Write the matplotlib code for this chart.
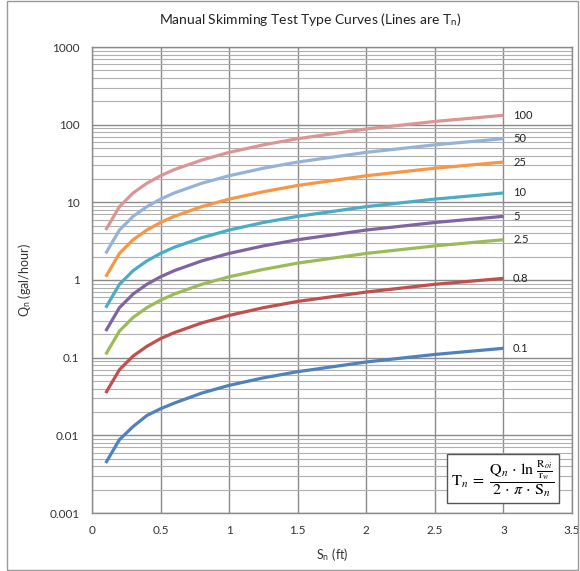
import matplotlib
matplotlib.use("Agg")
import matplotlib.pyplot as plt
from matplotlib.patches import Rectangle
from matplotlib.ticker import LogLocator, FixedLocator, NullFormatter

plt.rcParams['font.family'] = ['Lato', 'DejaVu Sans']
plt.rcParams['mathtext.fontset'] = 'stix'

S = [0.1, 0.2, 0.3, 0.4, 0.5, 0.6, 0.8, 1.0, 1.25, 1.5, 2.0, 2.5, 3.0]
series_labels = ["0.1", "0.8", "2.5", "5", "10", "25", "50", "100"]
q_01 = [0.0044, 0.0088, 0.013, 0.018, 0.022, 0.026, 0.035, 0.044, 0.055, 0.066, 0.088, 0.11, 0.132]
q_08 = [0.035, 0.07, 0.105, 0.14, 0.176, 0.21, 0.28, 0.35, 0.44, 0.53, 0.70, 0.88, 1.05]
q_25 = [0.11, 0.22, 0.33, 0.44, 0.55, 0.66, 0.88, 1.1, 1.37, 1.65, 2.2, 2.75, 3.3]
q_5 = [0.22, 0.44, 0.66, 0.88, 1.1, 1.32, 1.76, 2.2, 2.75, 3.3, 4.4, 5.5, 6.6]
q_10 = [0.44, 0.88, 1.32, 1.76, 2.2, 2.64, 3.5, 4.4, 5.5, 6.6, 8.8, 11, 13.2]
q_25b = [1.1, 2.2, 3.3, 4.4, 5.5, 6.6, 8.8, 11, 13.7, 16.5, 22, 27.5, 33]
q_50 = [2.2, 4.4, 6.6, 8.8, 11, 13.2, 17.6, 22, 27.5, 33, 44, 55, 66]
q_100 = [4.4, 8.8, 13.2, 17.6, 22, 26.4, 35, 44, 55, 66, 88, 110, 132]
all_q = [q_01, q_08, q_25, q_5, q_10, q_25b, q_50, q_100]
colors = ["#4F81BD", "#C0504D", "#9BBB59", "#8064A2", "#4BACC6", "#F79646", "#95B3D7", "#D99694"]

x_ticks = [0, 0.5, 1, 1.5, 2, 2.5, 3, 3.5]
y_ticks = [0.001, 0.01, 0.1, 1, 10, 100, 1000]
y_tick_labels = ["0.001", "0.01", "0.1", "1", "10", "100", "1000"]

fig = plt.figure(figsize=(5.8, 5.71), dpi=100)
ax = fig.add_axes([92/580, 1-513/571, 480/580, 466/571])

for q, c, lab in zip(all_q, colors, series_labels):
    ax.plot(S, q, color=c, lw=2.3, solid_capstyle='butt', zorder=3)
    ax.text(3.07, q[-1], lab, fontsize=8, va='center', ha='left', color='#222222', zorder=4)

ax.set_yscale('log')
ax.set_xlim(0, 3.5)
ax.set_ylim(0.001, 1000)
ax.xaxis.set_major_locator(FixedLocator(x_ticks))
ax.set_xticklabels([("%g" % v) for v in x_ticks])
ax.yaxis.set_major_locator(FixedLocator(y_ticks))
ax.set_yticklabels(y_tick_labels)
ax.yaxis.set_minor_locator(LogLocator(base=10, subs=[2, 3, 4, 5, 6, 7, 8, 9], numticks=20))
ax.yaxis.set_minor_formatter(NullFormatter())
ax.tick_params(axis='both', which='both', length=0, labelsize=8.5, colors='#333333', pad=9)
ax.grid(True, which='major', axis='both', color='#8a8a8a', lw=1.0, zorder=1)
ax.grid(True, which='minor', axis='y', color='#b0b0b0', lw=0.8, zorder=1)
for sp in ax.spines.values():
    sp.set_color('#8a8a8a')
    sp.set_linewidth(1.0)

ax.set_xlabel(r"S$_\mathregular{n}$ (ft)", fontsize=9, color='#333333', labelpad=7)
ax.set_ylabel(r"Q$_\mathregular{n}$ (gal/hour)", fontsize=9, color='#333333', labelpad=12)
fig.text(310/580, 1-19/571, r"Manual Skimming Test Type Curves (Lines are T$_\mathregular{n}$)",
         ha='center', va='center', fontsize=10, color='#222222')

ax.text(0.965, 0.03,
        r"$\mathrm{T}_n\;=\;\dfrac{\mathrm{Q}_n\,\cdot\,\ln\,\frac{\mathrm{R}_{oi}}{\mathrm{r}_w}}{2\,\cdot\,\pi\,\cdot\,\mathrm{S}_n}$",
        transform=ax.transAxes, ha='right', va='bottom', fontsize=11.5, zorder=5,
        bbox=dict(boxstyle='square,pad=0.25', fc='white', ec='#555555', lw=1.0))

fig.patches.append(Rectangle((7/580, 1/571), 571/580, 569/571, transform=fig.transFigure,
                             fill=False, ec='#999999', lw=1.0))

fig.savefig("out.png", dpi=100)
